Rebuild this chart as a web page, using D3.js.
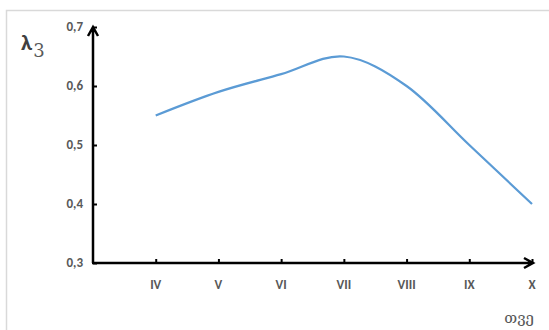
<!DOCTYPE html>
<html>
<head>
<meta charset="utf-8">
<script src="https://cdn.jsdelivr.net/npm/d3@7"></script>
<style>
  body { margin: 0; background: #fff; }
</style>
</head>
<body>
<div id="chart"></div>
<script>
const months = [4, 5, 6, 7, 8, 9, 10];
const monthLabels = ["IV", "V", "VI", "VII", "VIII", "IX", "X"];
const lambdaValues = [0.55, 0.59, 0.62, 0.65, 0.60, 0.50, 0.40];
const yTicks = [0.3, 0.4, 0.5, 0.6, 0.7];

const width = 549, height = 330;
const margin = { top: 27, right: 17, bottom: 67, left: 93 };

const svg = d3.select("#chart")
    .append("svg")
    .attr("width", width)
    .attr("height", height);

// outer frame (only top and left are visible)
svg.append("path")
    .attr("d", `M6.5,${height} V10.5 H${width}`)
    .attr("fill", "none")
    .attr("stroke", "#d9d9d9")
    .attr("stroke-width", 1.5);

const x = d3.scaleLinear()
    .domain([3, 10])
    .range([margin.left, width - margin.right]);

const y = d3.scaleLinear()
    .domain([0.3, 0.7])
    .range([height - margin.bottom, margin.top]);

const axisColor = "#000";
const labelColor = "#595959";
const font = "Carlito, 'Open Sans', 'DejaVu Sans', sans-serif";

// Y axis
const yAxis = svg.append("g")
    .attr("transform", `translate(${margin.left},0)`)
    .call(d3.axisRight(y).tickValues(yTicks).tickSize(4).tickFormat(""));
yAxis.select(".domain").remove();
yAxis.selectAll("line").attr("stroke", axisColor).attr("stroke-width", 2);

svg.selectAll(".ylab")
    .data(yTicks)
    .enter()
    .append("text")
    .attr("class", "ylab")
    .attr("x", margin.left - 10)
    .attr("y", d => y(d) + 4)
    .attr("text-anchor", "end")
    .style("font-family", font)
    .style("font-size", "13px")
    .style("font-weight", "bold")
    .style("fill", labelColor)
    .text(d => d3.format(".1f")(d).replace(".", ","));

// X axis
const xAxis = svg.append("g")
    .attr("transform", `translate(0,${y(0.3)})`)
    .call(d3.axisTop(x).tickValues(months).tickSize(4).tickFormat(""));
xAxis.select(".domain").remove();
xAxis.selectAll("line").attr("stroke", axisColor).attr("stroke-width", 2);

svg.selectAll(".xlab")
    .data(months)
    .enter()
    .append("text")
    .attr("class", "xlab")
    .attr("x", d => x(d))
    .attr("y", y(0.3) + 26)
    .attr("text-anchor", "middle")
    .style("font-family", font)
    .style("font-size", "13px")
    .style("font-weight", "bold")
    .style("fill", labelColor)
    .text((d, i) => monthLabels[i]);

// axis lines with open arrow heads
const x0 = x(3), y0 = y(0.3), xEnd = x(10) + 1, yEnd = y(0.7);
svg.append("path")
    .attr("d", `M${x0},${y0} V${yEnd} M${x0 - 5},${yEnd + 9} L${x0},${yEnd} L${x0 + 5},${yEnd + 9}`)
    .attr("fill", "none")
    .attr("stroke", axisColor)
    .attr("stroke-width", 2.5);
svg.append("path")
    .attr("d", `M${x0 - 1},${y0} H${xEnd} M${xEnd - 9},${y0 - 5} L${xEnd},${y0} L${xEnd - 9},${y0 + 5}`)
    .attr("fill", "none")
    .attr("stroke", axisColor)
    .attr("stroke-width", 2.5);

// series
const line = d3.line()
    .x((d, i) => x(months[i]))
    .y(d => y(d))
    .curve(d3.curveCatmullRom.alpha(0));

svg.append("path")
    .datum(lambdaValues)
    .attr("d", line)
    .attr("fill", "none")
    .attr("stroke", "#5b9bd5")
    .attr("stroke-width", 2.25);

// axis titles
const yTitle = svg.append("text")
    .attr("x", 21)
    .attr("y", 50)
    .style("font-family", font)
    .style("fill", "#404040");
yTitle.append("tspan")
    .style("font-size", "23px")
    .style("font-weight", "bold")
    .text("λ");
yTitle.append("tspan")
    .attr("dy", 7)
    .attr("dx", 1)
    .style("font-size", "18px")
    .style("font-family", "'DejaVu Serif', serif")
    .style("fill", labelColor)
    .text("3");

svg.append("text")
    .attr("x", 534)
    .attr("y", 323)
    .attr("text-anchor", "end")
    .style("font-family", "'DejaVu Serif', 'DejaVu Sans', serif")
    .style("font-size", "15px")
    .style("fill", labelColor)
    .text("თვე");
</script>
</body>
</html>
